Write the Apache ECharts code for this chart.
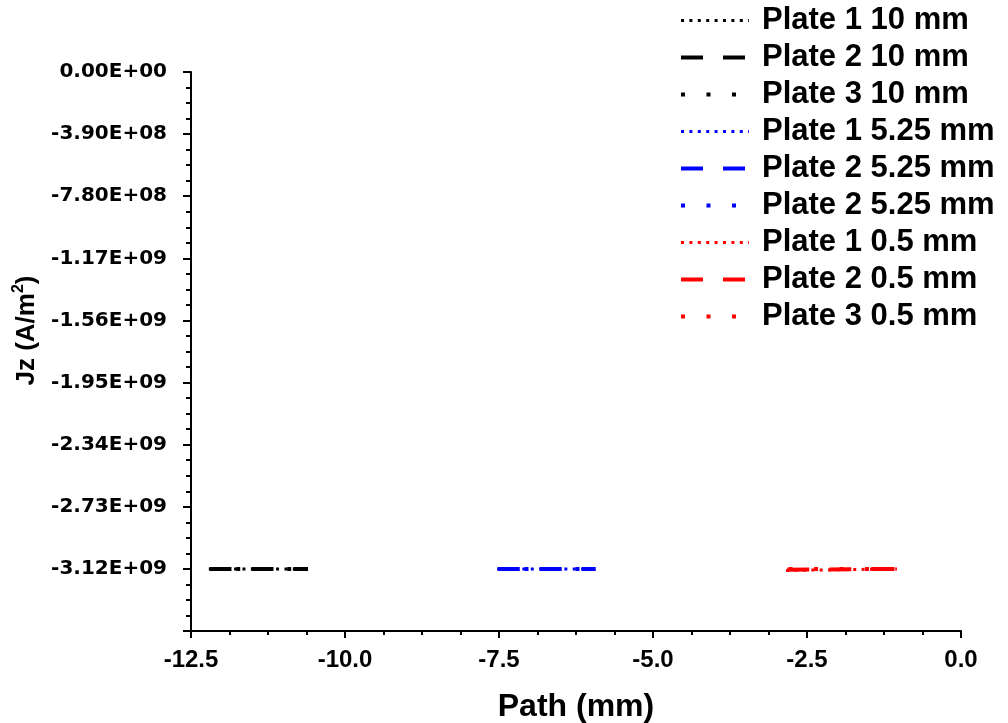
<!DOCTYPE html>
<html>
<head>
<meta charset="utf-8">
<script src="https://cdn.jsdelivr.net/npm/echarts@6/dist/echarts.min.js"></script>
<style>
html,body{margin:0;padding:0;background:#fff;}
#chart{width:1008px;height:723px;}
</style>
</head>
<body>
<div id="chart"></div>
<script>
// ---- data ----
const seriesNames = [
  'Plate 1 10 mm', 'Plate 2 10 mm', 'Plate 3 10 mm',
  'Plate 1 5.25 mm', 'Plate 2 5.25 mm', 'Plate 2 5.25 mm ',
  'Plate 1 0.5 mm', 'Plate 2 0.5 mm', 'Plate 3 0.5 mm'
];
// path positions (mm) for each series (start, end)
const plate1_10_x = [-12.21, -10.58];
const plate2_10_x = [-12.20, -10.60];
const plate3_10_x = [-12.18, -10.58];
const plate1_525_x = [-7.53, -5.91];
const plate2_525_x = [-7.52, -5.93];
const plate3_525_x = [-7.50, -5.92];
const plate1_05_x = [-2.84, -1.04];
const plate2_05_x = [-2.82, -1.05];
const plate3_05_x = [-2.80, -1.06];
// current density Jz (A/m^2)
const plate1_10_y = [-3.12e9, -3.12e9];
const plate2_10_y = [-3.12e9, -3.12e9];
const plate3_10_y = [-3.12e9, -3.12e9];
const plate1_525_y = [-3.12e9, -3.12e9];
const plate2_525_y = [-3.12e9, -3.12e9];
const plate3_525_y = [-3.12e9, -3.12e9];
const plate1_05_y = [-3.13e9, -3.12e9];
const plate2_05_y = [-3.125e9, -3.12e9];
const plate3_05_y = [-3.12e9, -3.12e9];

const xTickValues = [-12.5, -10.0, -7.5, -5.0, -2.5, 0.0];
const yTickValues = [0, -3.9e8, -7.8e8, -1.17e9, -1.56e9, -1.95e9, -2.34e9, -2.73e9, -3.12e9];

const xs = [plate1_10_x, plate2_10_x, plate3_10_x, plate1_525_x, plate2_525_x, plate3_525_x, plate1_05_x, plate2_05_x, plate3_05_x];
const ys = [plate1_10_y, plate2_10_y, plate3_10_y, plate1_525_y, plate2_525_y, plate3_525_y, plate1_05_y, plate2_05_y, plate3_05_y];

const colors = ['#000000', '#000000', '#000000', '#0000ff', '#0000ff', '#0000ff', '#ff0000', '#ff0000', '#ff0000'];
const dashStyles = [
  {type: [3, 5.4], width: 3},
  {type: [22, 20], width: 4},
  {type: [4, 21.5], width: 4}
];

function fmtY(v) {
  if (v < -3.3e9) return '';
  let s = v.toExponential(2);
  let parts = s.split('e');
  let sign = parts[1][0];
  let d = parts[1].slice(1).padStart(2, '0');
  return parts[0] + 'E' + sign + d;
}

const series = seriesNames.map((name, i) => ({
  name: name,
  type: 'line',
  symbol: 'none',
  showSymbol: false,
  data: xs[i].map((x, k) => [x, ys[i][k]]),
  lineStyle: {
    color: colors[i],
    width: dashStyles[i % 3].width,
    type: dashStyles[i % 3].type,
    cap: 'butt'
  },
  itemStyle: {color: colors[i]},
  z: 2
}));

const chart = echarts.init(document.getElementById('chart'), null, {renderer: 'canvas'});
chart.setOption({
  animation: false,
  backgroundColor: '#ffffff',
  grid: {left: 191, right: 47, top: 72, bottom: 92, containLabel: false, outerBoundsMode: 'none'},
  legend: {
    orient: 'vertical',
    left: 674,
    top: 0,
    itemWidth: 68,
    itemHeight: 14,
    itemGap: 6,
    data: seriesNames,
    itemStyle: {opacity: 0},
    lineStyle: {width: 'inherit'},
    formatter: function (n) { return n.trim(); },
    textStyle: {
      fontFamily: 'Liberation Sans, Arial, sans-serif',
      fontWeight: 'bold',
      fontSize: 31,
      lineHeight: 30,
      color: '#000',
      padding: [0, 0, 0, 8]
    }
  },
  xAxis: {
    type: 'value',
    min: -12.5,
    max: 0,
    interval: 2.5,
    name: 'Path (mm)',
    nameLocation: 'middle',
    nameGap: 60,
    nameTextStyle: {fontFamily: 'Liberation Sans, Arial, sans-serif', fontWeight: 'bold', fontSize: 32, color: '#000'},
    axisLine: {show: true, onZero: false, lineStyle: {color: '#000', width: 2}},
    axisTick: {show: true, inside: false, length: 7, lineStyle: {color: '#000', width: 2}},
    minorTick: {show: true, splitNumber: 4, length: 4, lineStyle: {color: '#000', width: 2}},
    splitLine: {show: false},
    axisLabel: {
      margin: 17,
      fontFamily: 'Liberation Sans, Arial, sans-serif',
      fontWeight: 'bold',
      fontSize: 24,
      color: '#000',
      formatter: function (v) {
        const t = xTickValues.find(x => Math.abs(x - v) < 1e-6);
        return (t === undefined ? v : t).toFixed(1);
      }
    }
  },
  yAxis: {
    type: 'value',
    min: -3.51e9,
    max: 0,
    interval: 3.9e8,
    name: '{a|Jz (A/m}{s|2}{a|)}',
    nameLocation: 'middle',
    nameGap: 146,
    nameRotate: 90,
    nameTextStyle: {
      padding: [0, 0, 0, 42],
      rich: {
        a: {fontFamily: 'Liberation Sans, Arial, sans-serif', fontWeight: 'bold', fontSize: 26, color: '#000', verticalAlign: 'bottom', lineHeight: 30},
        s: {fontFamily: 'Liberation Sans, Arial, sans-serif', fontWeight: 'bold', fontSize: 16, color: '#000', verticalAlign: 'top', lineHeight: 30, padding: [0, 0, 12, 0]}
      }
    },
    axisLine: {show: true, onZero: false, lineStyle: {color: '#000', width: 2}},
    axisTick: {show: true, inside: false, length: 8, lineStyle: {color: '#000', width: 2}},
    minorTick: {show: true, splitNumber: 4, length: 5, lineStyle: {color: '#000', width: 2}},
    splitLine: {show: false},
    axisLabel: {
      margin: 24,
      fontFamily: 'DejaVu Sans, sans-serif',
      fontWeight: 'bold',
      fontSize: 20,
      color: '#000',
      formatter: fmtY
    }
  },
  series: series
});
</script>
</body>
</html>
